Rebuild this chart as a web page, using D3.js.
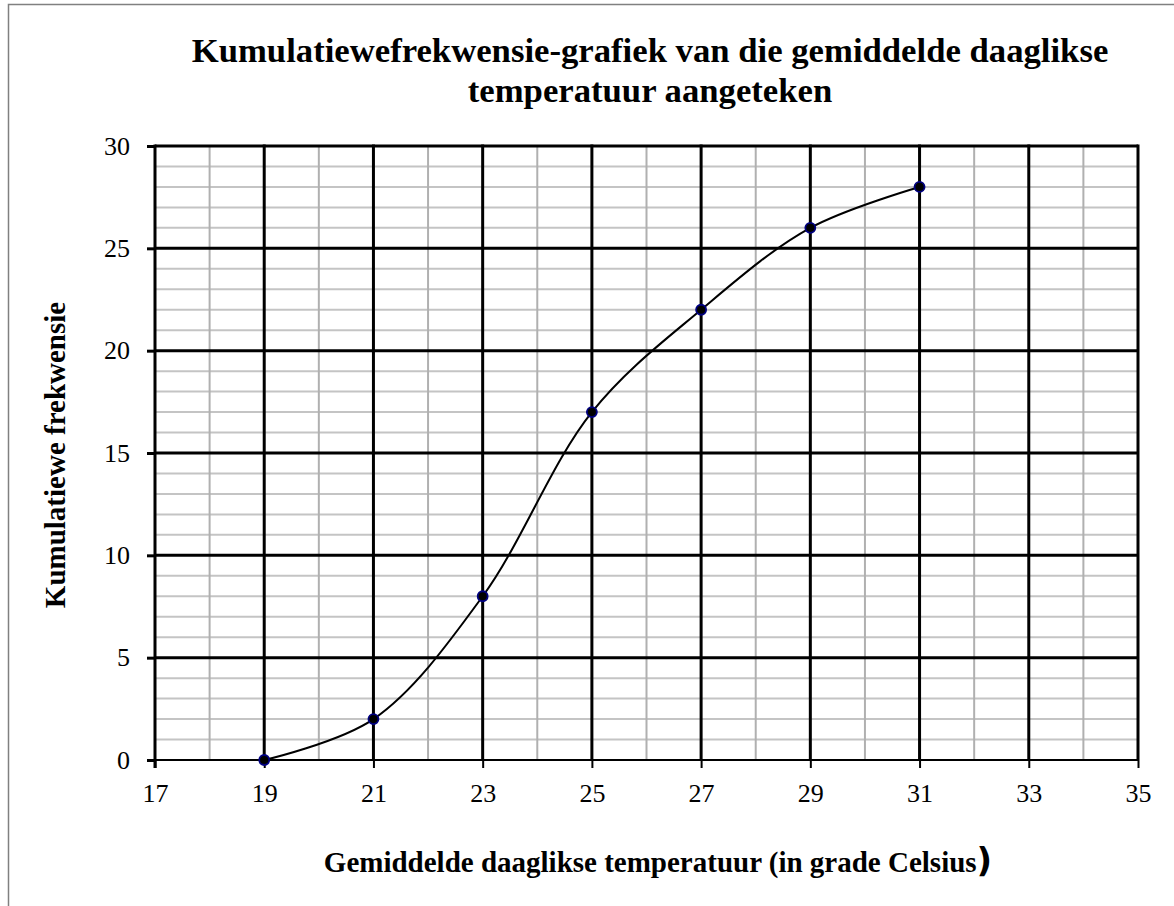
<!DOCTYPE html>
<html><head><meta charset="utf-8">
<script src="https://cdn.jsdelivr.net/npm/d3@7"></script>
<style>html,body{margin:0;padding:0;background:#fff;}svg{display:block;}</style>
</head><body>
<svg id="chart" width="1174" height="906"></svg>
<script>
const temperatures = [19, 21, 23, 25, 27, 29, 31];
const cumulativeFrequency = [0, 2, 8, 17, 22, 26, 28];
const xTickLabels = [17, 19, 21, 23, 25, 27, 29, 31, 33, 35];
const yTickLabels = [0, 5, 10, 15, 20, 25, 30];
const titleLines = ["Kumulatiewefrekwensie-grafiek van die gemiddelde daaglikse", "temperatuur aangeteken"];
const xTitle = "Gemiddelde daaglikse temperatuur (in grade Celsius";
const yTitle = "Kumulatiewe frekwensie";

const svg = d3.select("#chart");
const font = "'Liberation Serif','Times New Roman',serif";
const L = 155, R = 1138, T = 146, B = 760;
const x = d3.scaleLinear().domain([17, 35]).range([L, R]);
const y = d3.scaleLinear().domain([0, 30]).range([B, T]);

// outer frame (left & top visible)
svg.append("path").attr("d", `M8.5,${906} L8.5,4.5 L1174,4.5`).attr("fill","none").attr("stroke","#808080").attr("stroke-width",1.5);

// minor grid
const g = svg.append("g");
d3.range(1, 30).filter(v => v % 5 !== 0).forEach(v => {
  g.append("line").attr("x1", L).attr("x2", R).attr("y1", y(v)).attr("y2", y(v)).attr("stroke", "#c4c4c4").attr("stroke-width", 2);
});
d3.range(18, 35, 2).forEach(v => {
  g.append("line").attr("x1", x(v)).attr("x2", x(v)).attr("y1", T).attr("y2", B).attr("stroke", "#b0b0b0").attr("stroke-width", 2);
});
// major grid
yTickLabels.filter(v => v > 0).forEach(v => {
  g.append("line").attr("x1", L).attr("x2", R).attr("y1", y(v)).attr("y2", y(v)).attr("stroke", "#000").attr("stroke-width", 3);
});
xTickLabels.filter(v => v > 17).forEach(v => {
  g.append("line").attr("x1", x(v)).attr("x2", x(v)).attr("y1", T - 1.5).attr("y2", B).attr("stroke", "#000").attr("stroke-width", 3);
});

// axes
const xAxis = d3.axisBottom(x).tickValues(xTickLabels).tickSize(8).tickPadding(16).tickFormat(d3.format("d"));
const yAxis = d3.axisLeft(y).tickValues(yTickLabels).tickSize(8).tickPadding(17).tickFormat(d3.format("d"));
const gx = svg.append("g").attr("transform", `translate(0,${B})`).call(xAxis);
gx.select(".domain").attr("d", `M${L-8},0H${R}`).attr("stroke","#000").attr("stroke-width",2);
gx.selectAll(".tick line").attr("stroke","#000").attr("stroke-width",2);
gx.selectAll(".tick text").attr("font-family", font).attr("font-size", 26).attr("fill","#000");
const gy = svg.append("g").attr("transform", `translate(${L},0)`).call(yAxis);
gy.select(".domain").attr("d", `M0,${T-1.5}V${B+8}`).attr("stroke","#000").attr("stroke-width",3);
gy.selectAll(".tick line").attr("stroke","#000").attr("stroke-width",3);
gy.selectAll(".tick text").attr("font-family", font).attr("font-size", 26).attr("fill","#000");

// curve
const pts = temperatures.map((t, i) => [t, cumulativeFrequency[i]]);
const line = d3.line().x(d => x(d[0])).y(d => y(d[1])).curve(d3.curveCatmullRom.alpha(0.5));
svg.append("path").datum(pts).attr("d", line).attr("fill","none").attr("stroke","#000").attr("stroke-width",2);
svg.selectAll("circle.pt").data(pts).enter().append("circle")
  .attr("cx", d => x(d[0])).attr("cy", d => y(d[1])).attr("r", 5)
  .attr("fill", "#000").attr("stroke", "#000080").attr("stroke-width", 1.8);

// titles
svg.append("text").attr("font-family", font).attr("font-size", 34.7).attr("font-weight","bold")
  .attr("text-anchor","middle")
  .selectAll("tspan").data(titleLines).enter().append("tspan")
  .attr("x", 650).attr("y", (d, i) => 62 + i * 40).text(d => d);
const xt = svg.append("text").attr("x", 658).attr("y", 872).attr("font-family", font).attr("font-size", 29).attr("font-weight","bold").attr("text-anchor","middle");
xt.append("tspan").text(xTitle);
xt.append("tspan").attr("font-size", 34).attr("font-family", "'DejaVu Sans', sans-serif").text(")");
svg.append("text").attr("transform", "translate(65,455) rotate(-90)").attr("font-family", font).attr("font-size", 29).attr("font-weight","bold").attr("text-anchor","middle").text(yTitle);
</script>
</body></html>
